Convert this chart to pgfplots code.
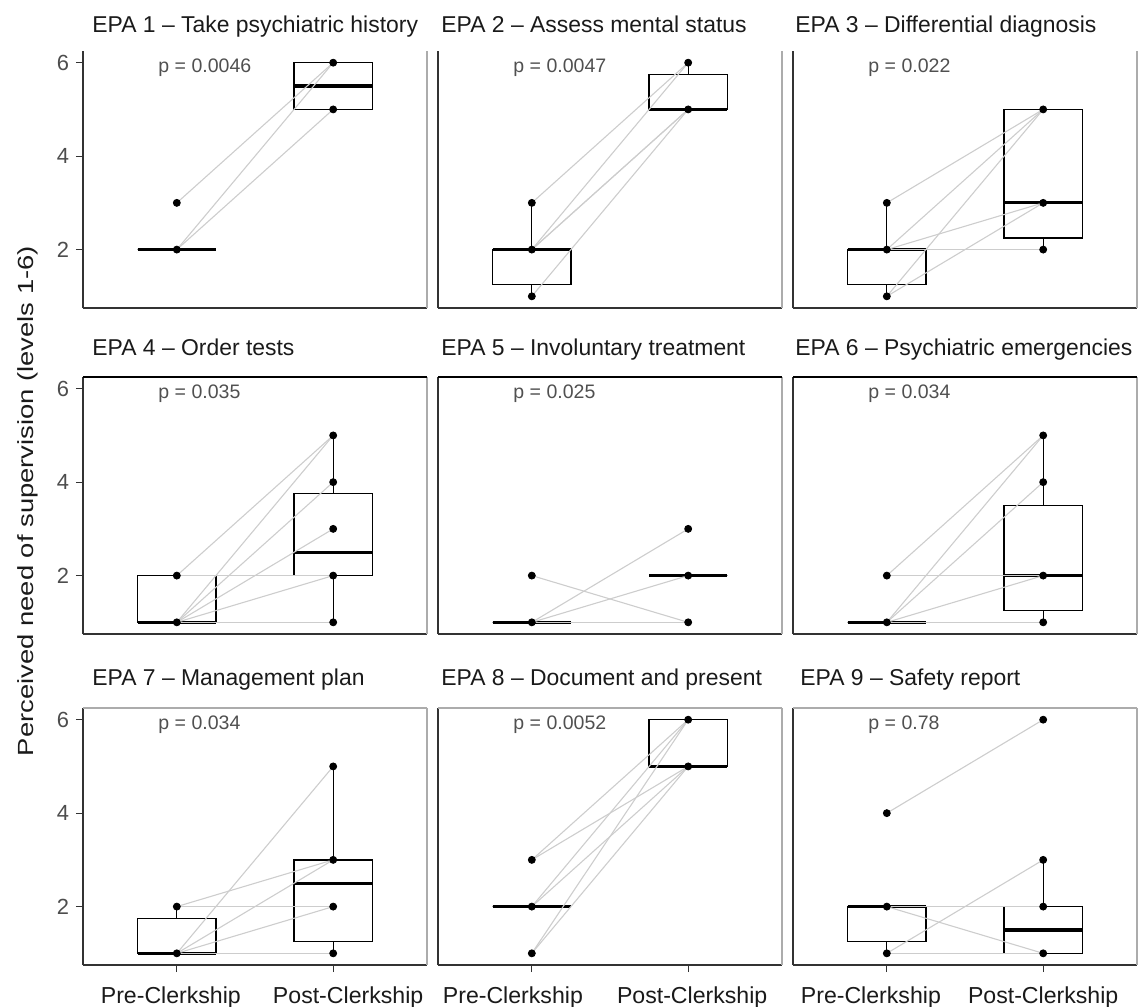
\documentclass[border=0pt]{standalone}
\usepackage{fontspec}
\setmainfont{Liberation Sans}
\usepackage{graphicx}
\usepackage{pgfplots}
\pgfplotsset{compat=1.18}
\usepgfplotslibrary{statistics}
\definecolor{pairline}{HTML}{CDCDCD}
\definecolor{tickgray}{HTML}{4D4D4D}
\definecolor{axgray}{HTML}{333333}
\definecolor{ptext}{HTML}{505050}
\definecolor{titletext}{HTML}{1A1A1A}

\pgfplotsset{
  epa/.style={
    scale only axis, width=172bp, height=128.5bp,
    xmin=0.4, xmax=2.6, ymin=0.75, ymax=6.25,
    axis x line*=bottom, axis y line*=left,
    axis line style={axgray, line width=0.6bp},
    tick style={axgray, line width=0.6bp},
    tick align=outside, major tick length=3.5bp,
    xtick pos=left, ytick pos=left,
    xtick=\empty, ytick=\empty,
    clip=false,
    /pgf/number format/assume math mode=true,
    yticklabel style={font=\fontsize{11}{13}\selectfont, text=tickgray},
    xticklabel style={font=\fontsize{11.6}{14}\selectfont, text=titletext, anchor=base, yshift=-15.5bp},
  },
  ycol/.style={ytick={2,4,6}},
  xrow/.style 2 args={xtick={1,2}, xticklabels={Pre-Clerkship, Post-Clerkship},
    xticklabel style={xshift={\ticknum==0 ? #1 : #2}}},
}

% box: position, lower whisker, lower quartile, median, upper quartile, upper whisker
\newcommand\bx[6]{%
  \addplot[black, line width=0.65bp, forget plot,
    boxplot/draw direction=y,
    boxplot/every median/.style={line width=1.6bp},
    boxplot prepared={draw position=#1, lower whisker=#2, lower quartile=#3,
      median=#4, upper quartile=#5, upper whisker=#6,
      box extend=0.5, whisker extend=0}] coordinates {};}
\newcommand\pr[2]{\addplot[pairline, line width=0.55bp, forget plot] coordinates {(1,#1) (2,#2)};}
\newcommand\pts[1]{\addplot[only marks, mark=*, mark size=1.75bp, black, forget plot] coordinates {#1};}
\newcommand\pval[1]{\node[anchor=base west, inner sep=0pt, text=ptext, font=\fontsize{9.8}{11}\selectfont] at (axis cs:0.88,5.8) {#1};}
\newcommand\rline{\draw[gray!65, line width=0.7bp] (rel axis cs:1,0) -- (rel axis cs:1,1);}

\begin{document}
\begin{tikzpicture}
\useasboundingbox (0bp,0bp) rectangle (572.5bp,-503.5bp);

% ---------- Row 1 ----------
\begin{axis}[epa, ycol, at={(41.5bp,-154bp)}, anchor=south west]
  \bx{1}{2}{2}{2}{2}{2}
  \bx{2}{5}{5}{5.5}{6}{6}
  \pr{3}{6}\pr{2}{6}\pr{2}{5}
  \pts{(1,3)(1,2)(2,6)(2,5)}
  \pval{p = 0.0046}
  \rline
\end{axis}
\begin{axis}[epa, at={(219bp,-154bp)}, anchor=south west]
  \bx{1}{1}{1.25}{2}{2}{3}
  \bx{2}{5}{5}{5}{5.75}{6}
  \pr{3}{6}\pr{2}{6}\pr{2}{5}\pr{2}{5}\pr{1}{5}
  \pts{(1,1)(1,2)(1,3)(2,5)(2,6)}
  \pval{p = 0.0047}
  \rline
\end{axis}
\begin{axis}[epa, at={(396.5bp,-154bp)}, anchor=south west]
  \bx{1}{1}{1.25}{2}{2}{3}
  \bx{2}{2}{2.25}{3}{5}{5}
  \pr{3}{5}\pr{2}{5}\pr{2}{3}\pr{2}{2}\pr{1}{5}\pr{1}{3}
  \pts{(1,1)(1,2)(1,3)(2,2)(2,3)(2,5)}
  \pval{p = 0.022}
  \rline
\end{axis}

% ---------- Row 2 ----------
\begin{axis}[epa, ycol, at={(41.5bp,-317bp)}, anchor=south west]
  \bx{1}{1}{1}{1}{2}{2}
  \bx{2}{1}{2}{2.5}{3.75}{5}
  \pr{2}{5}\pr{2}{2}\pr{1}{5}\pr{1}{4}\pr{1}{3}\pr{1}{2}\pr{1}{1}
  \pts{(1,1)(1,2)(2,1)(2,2)(2,3)(2,4)(2,5)}
  \pval{p = 0.035}
  \rline
  \draw[black, line width=1bp] (rel axis cs:0,1) -- (rel axis cs:1,1);
\end{axis}
\begin{axis}[epa, at={(219bp,-317bp)}, anchor=south west]
  \bx{1}{1}{1}{1}{1}{1}
  \bx{2}{2}{2}{2}{2}{2}
  \pr{2}{1}\pr{1}{3}\pr{1}{2}\pr{1}{1}
  \pts{(1,1)(1,2)(2,1)(2,2)(2,3)}
  \pval{p = 0.025}
  \rline
  \draw[black, line width=1bp] (rel axis cs:0,1) -- (rel axis cs:1,1);
\end{axis}
\begin{axis}[epa, at={(396.5bp,-317bp)}, anchor=south west]
  \bx{1}{1}{1}{1}{1}{1}
  \bx{2}{1}{1.25}{2}{3.5}{5}
  \pr{2}{5}\pr{2}{2}\pr{1}{5}\pr{1}{4}\pr{1}{2}\pr{1}{1}
  \pts{(1,1)(1,2)(2,1)(2,2)(2,4)(2,5)}
  \pval{p = 0.034}
  \rline
  \draw[black, line width=1bp] (rel axis cs:0,1) -- (rel axis cs:1,1);
\end{axis}

% ---------- Row 3 ----------
\begin{axis}[epa, ycol, xrow={-3}{7.5}, at={(41.5bp,-482.5bp)}, anchor=south west]
  \bx{1}{1}{1}{1}{1.75}{2}
  \bx{2}{1}{1.25}{2.5}{3}{5}
  \pr{2}{3}\pr{2}{2}\pr{1}{5}\pr{1}{3}\pr{1}{2}\pr{1}{1}
  \pts{(1,1)(1,2)(2,1)(2,2)(2,3)(2,5)}
  \pval{p = 0.034}
  \rline
  \draw[gray!65, line width=1bp] (rel axis cs:0,1) -- (rel axis cs:1,1);
\end{axis}
\begin{axis}[epa, xrow={-9.5}{2}, at={(219bp,-482.5bp)}, anchor=south west]
  \bx{1}{2}{2}{2}{2}{2}
  \bx{2}{5}{5}{5}{6}{6}
  \pr{3}{6}\pr{3}{5}\pr{2}{6}\pr{2}{5}\pr{1}{6}\pr{1}{5}
  \pts{(1,1)(1,2)(1,3)(2,5)(2,6)}
  \pval{p = 0.0052}
  \rline
  \draw[gray!65, line width=1bp] (rel axis cs:0,1) -- (rel axis cs:1,1);
\end{axis}
\begin{axis}[epa, xrow={-8}{0}, at={(396.5bp,-482.5bp)}, anchor=south west]
  \bx{1}{1}{1.25}{2}{2}{2}
  \bx{2}{1}{1}{1.5}{2}{3}
  \pr{4}{6}\pr{2}{2}\pr{2}{1}\pr{1}{3}\pr{1}{1}
  \pts{(1,1)(1,2)(1,4)(2,1)(2,2)(2,3)(2,6)}
  \pval{p = 0.78}
  \rline
  \draw[gray!65, line width=1bp] (rel axis cs:0,1) -- (rel axis cs:1,1);
\end{axis}

% ---------- Panel titles ----------
\begin{scope}[every node/.style={anchor=base west, text=titletext, font=\fontsize{11.5}{14}\selectfont, inner sep=0pt}]
  \node at (46bp,-16bp) {EPA 1 – Take psychiatric history};
  \node at (220.5bp,-16bp) {EPA 2 – Assess mental status};
  \node at (397.5bp,-16bp) {EPA 3 – Differential diagnosis};
  \node at (46bp,-177.5bp) {EPA 4 – Order tests};
  \node at (220.5bp,-177.5bp) {EPA 5 – Involuntary treatment};
  \node at (397.5bp,-177.5bp) {EPA 6 – Psychiatric emergencies};
  \node at (46bp,-342.5bp) {EPA 7 – Management plan};
  \node at (220.5bp,-342.5bp) {EPA 8 – Document and present};
  \node at (400bp,-342.5bp) {EPA 9 – Safety report};
\end{scope}

% ---------- shared y label ----------
\node[rotate=90, anchor=base, text=titletext, font=\fontsize{11}{13}\selectfont, inner sep=0pt]
  at (16.5bp,-250.5bp) {\scalebox{1.25}[1]{Perceived need of supervision (levels 1-6)}};
\end{tikzpicture}
\end{document}
